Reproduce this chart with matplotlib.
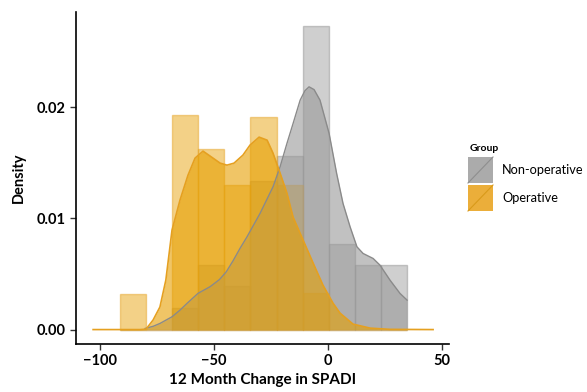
import matplotlib.pyplot as plt
import numpy as np
from matplotlib.patches import Rectangle
from matplotlib.lines import Line2D

plt.rcParams['font.family'] = ['Lato', 'DejaVu Sans']

# histogram bins (12 Month Change in SPADI) and counts per group
bin_edges = [-91.25, -79.7, -68.3, -56.8, -45.4, -34.0, -22.4, -11.0, 0.4, 12.0, 23.4, 34.9]
counts_nonop = [0, 0, 1, 3, 2, 7, 8, 14, 4, 3, 3]
counts_op = [1, 0, 6, 5, 4, 6, 4, 1, 0, 0, 0]

# density curves
kde_nonop_x = [-80.1, -76.5, -73.6, -68.3, -64.8, -61.7, -56.9, -51.6, -47.5, -44.5, -41.5,
               -38.5, -35.4, -29.7, -24.0, -20.9, -17.9, -15.2, -12.1, -10.0, -8.2, -6.0,
               -3.4, 0.6, 3.9, 6.7, 9.8, 12.8, 15.5, 19.9, 22.9, 27.3, 31.7, 34.8]
kde_nonop_y = [0.0001, 0.0003, 0.00055, 0.00115, 0.00175, 0.00236, 0.00326, 0.00386, 0.0045,
               0.0052, 0.0062, 0.0073, 0.00835, 0.01045, 0.01285, 0.01465, 0.01675, 0.01855,
               0.02065, 0.0215, 0.02185, 0.0216, 0.02065, 0.01765, 0.01405, 0.01135, 0.00925,
               0.00745, 0.00685, 0.0064, 0.0058, 0.00445, 0.00325, 0.00265]
kde_op_x = [-102.9, -82.3, -79.7, -76.6, -73.6, -71.0, -68.3, -64.8, -61.3, -58.2, -54.7,
            -50.3, -47.2, -44.2, -41.1, -37.2, -34.1, -30.1, -26.6, -24.0, -20.9, -17.9,
            -15.2, -10.8, -6.4, -2.1, 2.3, 5.4, 11.1, 18.6, 27.3, 46.2]
kde_op_y = [0.0, 0.0, 0.00004, 0.00086, 0.00203, 0.00446, 0.00895, 0.01165, 0.01389, 0.01543,
            0.01606, 0.01543, 0.01498, 0.0148, 0.01498, 0.0157, 0.0166, 0.01732, 0.01705,
            0.01588, 0.01408, 0.01228, 0.01012, 0.00805, 0.00598, 0.004, 0.00238, 0.00148,
            0.00049, 0.00013, 0.00002, 0.0]

groups = ["Non-operative", "Operative"]
gray = "#999999"
orange = "#E69F00"

fig = plt.figure(figsize=(5.87, 3.92), dpi=100)
ax = fig.add_axes([0.1295, 0.1224, 0.6355, 0.8466])

edges = np.array(bin_edges)
widths = np.diff(edges)
for counts, col, ec in [(counts_nonop, gray, "#8E8E8E"), (counts_op, orange, "#E5A020")]:
    c = np.array(counts, dtype=float)
    dens = c / (c.sum() * widths)
    ax.bar(edges[:-1], dens, width=widths, align='edge', color=col, alpha=0.47,
           edgecolor=ec, linewidth=1.0)

ax.fill_between(kde_nonop_x, kde_nonop_y, 0, color=gray, alpha=0.6, linewidth=0)
ax.plot(kde_nonop_x, kde_nonop_y, color="#8A8A8A", lw=1.0)
ax.fill_between(kde_op_x, kde_op_y, 0, color=orange, alpha=0.6, linewidth=0)
ax.plot(kde_op_x, kde_op_y, color="#E5A020", lw=1.2)

ax.set_xlim(-110.4, 53.2)
ax.set_ylim(-0.0013, 0.02857)
ax.set_xticks([-100, -50, 0, 50])
ax.set_yticks([0.0, 0.01, 0.02])
ax.set_yticklabels(["0.00", "0.01", "0.02"])
for s in ["top", "right"]:
    ax.spines[s].set_visible(False)
for s in ["left", "bottom"]:
    ax.spines[s].set_linewidth(1.2)
ax.tick_params(length=4, width=1, labelsize=10.5, color="#333333")
for lab in ax.get_xticklabels() + ax.get_yticklabels():
    lab.set_fontweight("bold")
ax.set_xlabel("12 Month Change in SPADI", fontsize=11, fontweight="bold", labelpad=3)
ax.set_ylabel("Density", fontsize=10.5, fontweight="bold", labelpad=8)

# legend drawn by hand
W, H = 587.0, 392.0
fig.text(470 / W, 1 - 149 / H, "Group", fontsize=7.5, fontweight="bold", va="center", ha="left")
keys = [("#ABABAB", "#8E8E8E", 157), ("#EBAE3A", "#D99A1A", 185)]
for (fc, lc, top), name in zip(keys, groups):
    fig.add_artist(Rectangle((468 / W, 1 - (top + 26) / H), 25 / W, 26 / H,
                             transform=fig.transFigure, facecolor=fc, edgecolor="none"))
    fig.add_artist(Line2D([468 / W, 493 / W], [1 - (top + 26) / H, 1 - top / H],
                          transform=fig.transFigure, color=lc, lw=0.8))
    fig.text(502 / W, 1 - (top + 13) / H, name, fontsize=9.2, va="center", ha="left")

fig.savefig("out.png", dpi=100)
